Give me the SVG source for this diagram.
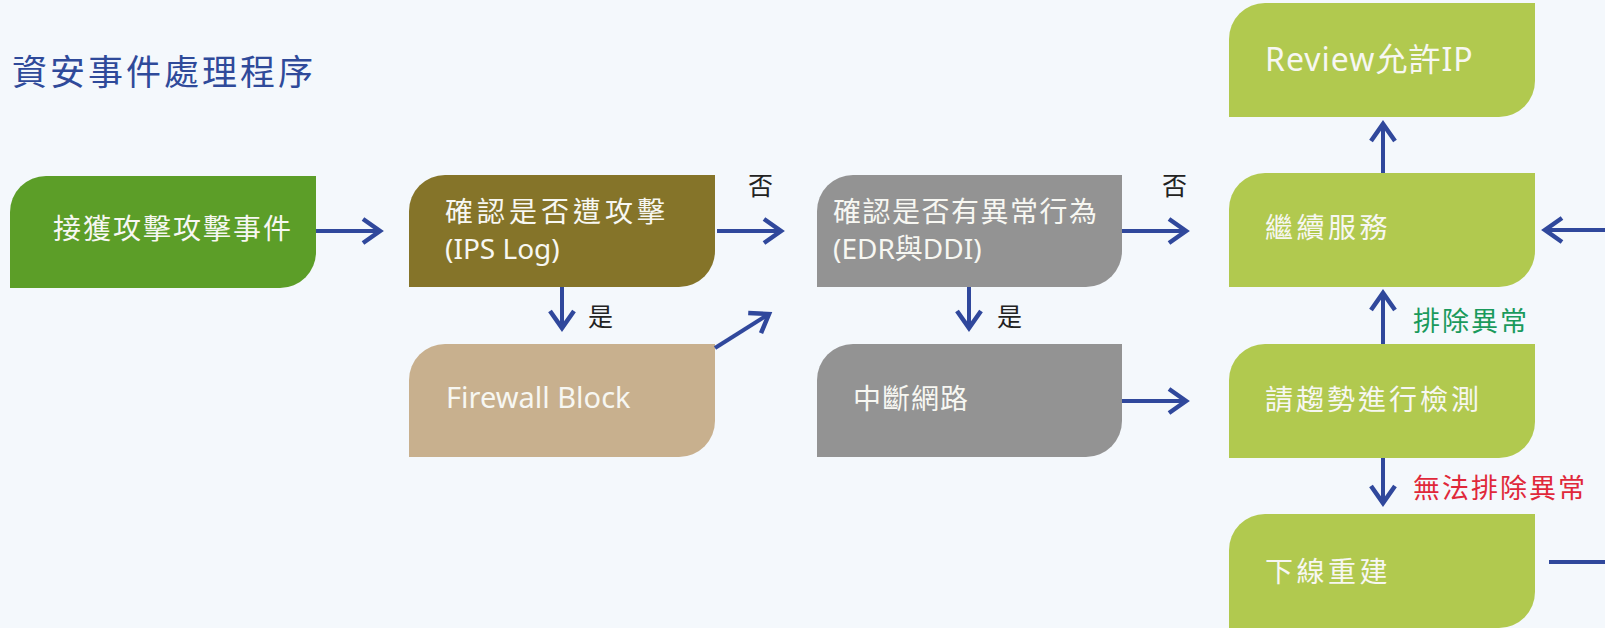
<svg xmlns="http://www.w3.org/2000/svg" width="1605" height="628" viewBox="0 0 1605 628">
<defs>
<style>
.nt{font-family:"Noto Sans","Noto Sans CJK TC",sans-serif;font-size:28px;fill:#f7f7f2;}
.lb{font-family:"Noto Sans CJK TC",sans-serif;font-size:25px;fill:#222;}
.cn{stroke:#30489c;stroke-width:4;fill:none;marker-end:url(#ah);}
.ln{stroke:#30489c;stroke-width:4;fill:none;}
</style>
<marker id="ah" markerUnits="userSpaceOnUse" viewBox="-22 -14 26 28" refX="0" refY="0" markerWidth="26" markerHeight="28" orient="auto">
<path d="M-17,-12 L0,0 L-17,12" fill="none" stroke="#30489c" stroke-width="4.5"/>
</marker>
</defs>
<rect width="1605" height="628" fill="#f4f8fc"/>
<text x="12" y="85" font-family="Noto Sans CJK TC, sans-serif" font-size="35" fill="#2f4a9a" letter-spacing="3">資安事件處理程序</text>

<g id="n1"><path d="M46,176 H316 V252 A36,36 0 0 1 280,288 H10 V212 A36,36 0 0 1 46,176 Z" fill="#5c9e28"/><text class="nt" x="53" y="239" letter-spacing="2">接獲攻擊攻擊事件</text></g>
<g id="n2"><path d="M445,175 H715 V251 A36,36 0 0 1 679,287 H409 V211 A36,36 0 0 1 445,175 Z" fill="#857429"/><text class="nt" x="445" y="222" letter-spacing="4">確認是否遭攻擊</text><text class="nt" x="445" y="259">(IPS Log)</text></g>
<g id="n3"><path d="M445,344 H715 V421 A36,36 0 0 1 679,457 H409 V380 A36,36 0 0 1 445,344 Z" fill="#c8b08e"/><text class="nt" x="446" y="408" style="font-size:29px">Firewall Block</text></g>
<g id="n4"><path d="M853,175 H1122 V251 A36,36 0 0 1 1086,287 H817 V211 A36,36 0 0 1 853,175 Z" fill="#939393"/><text class="nt" x="833" y="222" letter-spacing="1.5">確認是否有異常行為</text><text class="nt" x="833" y="259">(EDR與DDI)</text></g>
<g id="n5"><path d="M853,344 H1122 V421 A36,36 0 0 1 1086,457 H817 V380 A36,36 0 0 1 853,344 Z" fill="#939393"/><text class="nt" x="853" y="409" letter-spacing="1">中斷網路</text></g>
<g id="n6"><path d="M1265,3 H1535 V81 A36,36 0 0 1 1499,117 H1229 V39 A36,36 0 0 1 1265,3 Z" fill="#b1c94f"/><text class="nt" x="1265" y="71" style="font-size:32px" letter-spacing="1">Review允許IP</text></g>
<g id="n7"><path d="M1265,173 H1535 V251 A36,36 0 0 1 1499,287 H1229 V209 A36,36 0 0 1 1265,173 Z" fill="#b1c94f"/><text class="nt" x="1265" y="238" letter-spacing="3.5">繼續服務</text></g>
<g id="n8"><path d="M1265,344 H1535 V422 A36,36 0 0 1 1499,458 H1229 V380 A36,36 0 0 1 1265,344 Z" fill="#b1c94f"/><text class="nt" x="1265" y="410" letter-spacing="3">請趨勢進行檢測</text></g>
<g id="n9"><path d="M1265,514 H1535 V592 A36,36 0 0 1 1499,628 H1229 V550 A36,36 0 0 1 1265,514 Z" fill="#b1c94f"/><text class="nt" x="1265" y="582" letter-spacing="3.5">下線重建</text></g>

<g id="connectors">
<line class="cn" x1="316" y1="231" x2="380" y2="231"/>
<line class="cn" x1="717" y1="231" x2="781" y2="231"/>
<line class="cn" x1="562" y1="287" x2="562" y2="328"/>
<line class="cn" x1="715" y1="348" x2="769" y2="314"/>
<line class="cn" x1="1122" y1="231" x2="1186" y2="231"/>
<line class="cn" x1="969" y1="287" x2="969" y2="328"/>
<line class="cn" x1="1122" y1="401" x2="1186" y2="401"/>
<line class="cn" x1="1383" y1="173" x2="1383" y2="124"/>
<line class="cn" x1="1383" y1="344" x2="1383" y2="293"/>
<line class="cn" x1="1383" y1="458" x2="1383" y2="503"/>
<line class="cn" x1="1605" y1="230" x2="1545" y2="230"/>
<line class="ln" x1="1549" y1="562" x2="1605" y2="562"/>
<text class="lb" x="748" y="195">否</text>
<text class="lb" x="1162" y="195">否</text>
<text class="lb" x="588" y="326">是</text>
<text class="lb" x="997" y="326">是</text>
<text x="1413" y="331" font-family="Noto Sans CJK TC, sans-serif" font-size="27" fill="#1a9a5c" letter-spacing="2">排除異常</text>
<text x="1413" y="498" font-family="Noto Sans CJK TC, sans-serif" font-size="27" fill="#e0283a" letter-spacing="2">無法排除異常</text>
</g>
</svg>
